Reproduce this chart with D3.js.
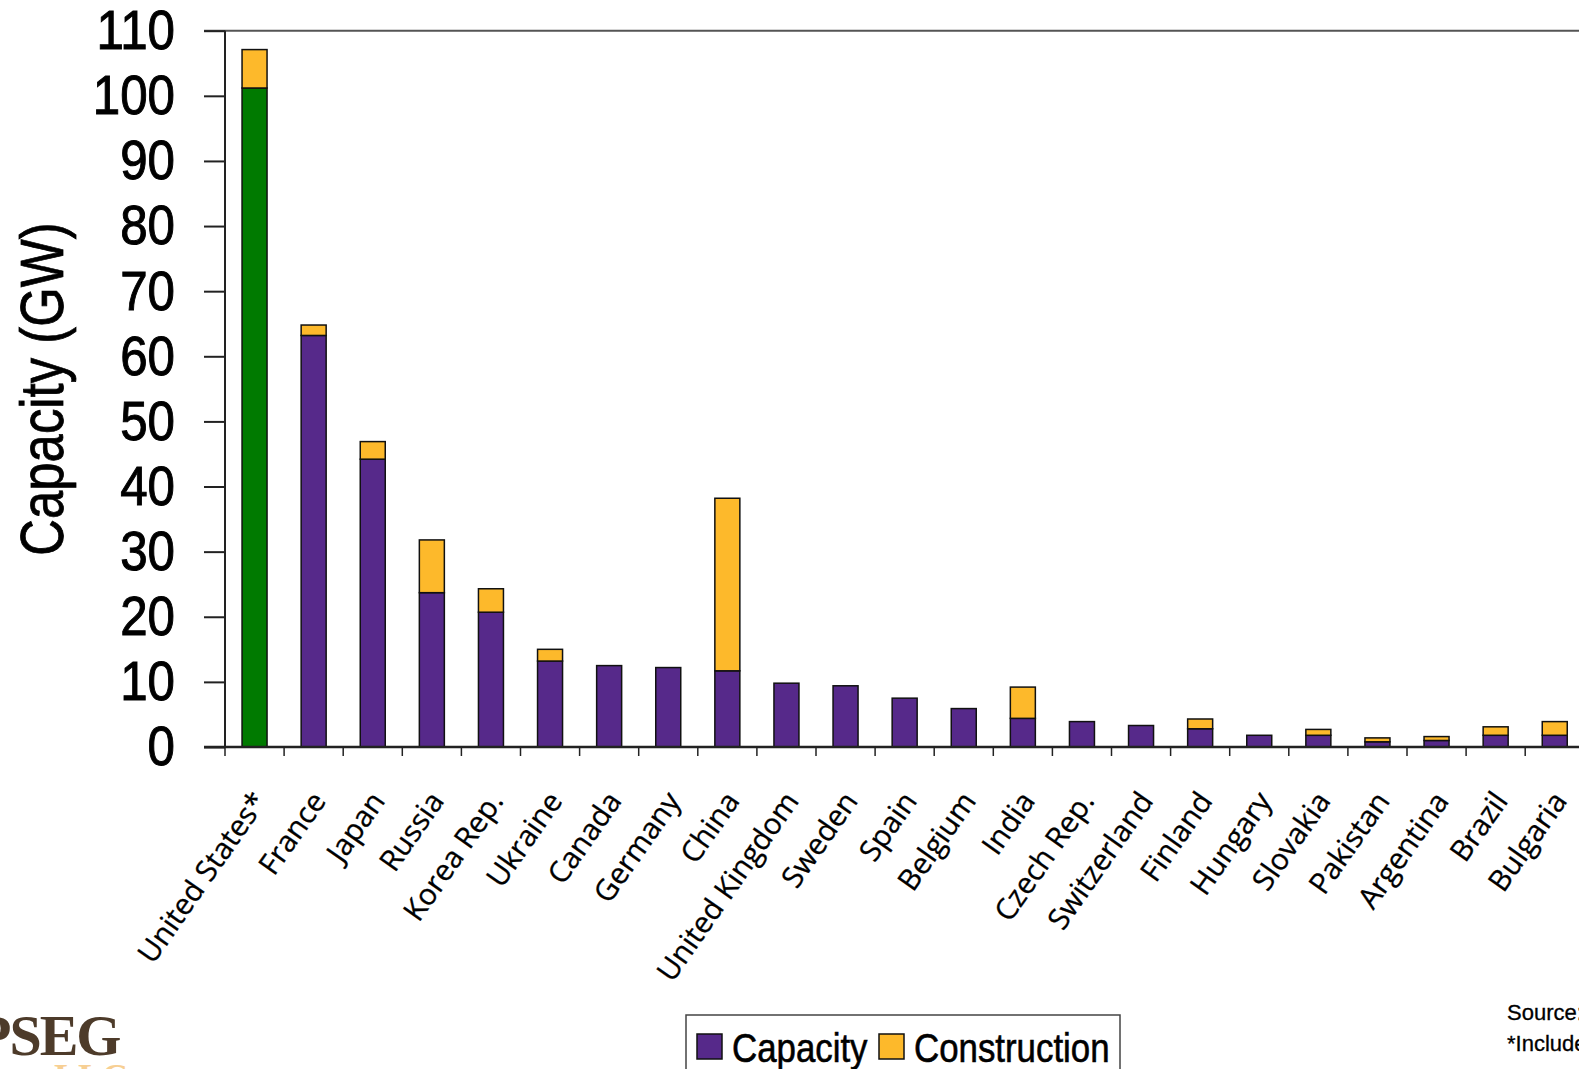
<!DOCTYPE html>
<html><head><meta charset="utf-8">
<script src="https://cdn.jsdelivr.net/npm/d3@7"></script>
<style>html,body{margin:0;padding:0;background:#fff;overflow:hidden}</style>
</head><body>
<svg id="chart" width="1579" height="1069"></svg>
<script>
const countries = ["United States*","France","Japan","Russia","Korea Rep.","Ukraine","Canada","Germany","China","United Kingdom","Sweden","Spain","Belgium","India","Czech Rep.","Switzerland","Finland","Hungary","Slovakia","Pakistan","Argentina","Brazil","Bulgaria"];
const capacity = [101.2,63.2,44.2,23.7,20.7,13.2,12.5,12.2,11.7,9.8,9.4,7.5,5.9,4.4,3.9,3.3,2.8,1.8,1.8,0.8,1.0,1.8,1.8];
const construction = [5.9,1.6,2.7,8.1,3.6,1.8,0,0,26.5,0,0,0,0,4.8,0,0,1.5,0,0.9,0.6,0.6,1.3,2.1];
const yTicks = [0,10,20,30,40,50,60,70,80,90,100,110];
const seriesNames = ["Capacity","Construction"];

const colPurple = "#56298a", colYellow = "#fdb92b", colGreen = "#007a00";
const narrowTick = 0.88, narrow = 0.82, narrowLeg = 0.85;
const sansFont = "'Liberation Sans',Arial,sans-serif";
const svg = d3.select("#chart");
const x0 = 225, y0 = 747, step = 59.1;
const x = d3.scaleBand().domain(countries).range([x0, x0 + step*countries.length]).paddingInner(0.577).paddingOuter(0.2885);
const y = d3.scaleLinear().domain([0,110]).range([y0, 30.7]);

// plot frame top line
svg.append("line").attr("x1",204).attr("x2",1600).attr("y1",y(110)).attr("y2",y(110)).attr("stroke","#555").attr("stroke-width",2);

// y axis
const ya = svg.append("g").attr("transform",`translate(${x0},0)`)
  .call(d3.axisLeft(y).tickValues(yTicks).tickSize(21).tickPadding(29).tickFormat(d3.format("d")));
ya.select(".domain").remove();
ya.selectAll(".tick line").attr("stroke","#222").attr("stroke-width",2);
ya.selectAll(".tick text").attr("font-family",sansFont).attr("font-size",56).attr("fill","#000")
  .attr("stroke","#000").attr("stroke-width",1)
  .attr("x",-50/narrowTick).attr("transform",`scale(${narrowTick},1)`);
svg.append("line").attr("x1",x0).attr("x2",x0).attr("y1",y(110)).attr("y2",y0).attr("stroke","#222").attr("stroke-width",2);

// y title
svg.append("text").attr("transform",`translate(63,${(229+549)/2}) rotate(-90) scale(${narrow},1)`).attr("text-anchor","middle")
  .attr("font-family",sansFont).attr("font-size",62).attr("stroke","#000").attr("stroke-width",0.8).text("Capacity (GW)");

// bars
const g = svg.append("g");
countries.forEach((c,i)=>{
  const bx = x(c), bw = x.bandwidth();
  g.append("rect").attr("x",bx).attr("width",bw).attr("y",y(capacity[i])).attr("height",y0 - y(capacity[i]))
    .attr("fill", i===0?colGreen:colPurple).attr("stroke","#111").attr("stroke-width",1.5);
  if (construction[i]>0) {
    const top = capacity[i]+construction[i];
    g.append("rect").attr("x",bx).attr("width",bw).attr("y",y(top)).attr("height",y(capacity[i])-y(top))
      .attr("fill",colYellow).attr("stroke","#111").attr("stroke-width",1.5);
  }
});

// x axis line and ticks
svg.append("line").attr("x1",204).attr("x2",1600).attr("y1",y0).attr("y2",y0).attr("stroke","#222").attr("stroke-width",2.5);
const bounds = countries.map(c=>x(c)+x.bandwidth()/2 - x.step()/2);
svg.selectAll(".xt").data(bounds).enter().append("line").attr("x1",d=>d).attr("x2",d=>d).attr("y1",y0).attr("y2",y0+9).attr("stroke","#222").attr("stroke-width",1.5);

// x labels
svg.selectAll(".xl").data(countries).enter().append("text")
  .attr("transform",d=>`translate(${x(d)+x.bandwidth()/2-4},789) rotate(-55)`)
  .attr("text-anchor","end").attr("dy","0.72em")
  .attr("font-family","'Open Sans',sans-serif").attr("font-size",29.5).attr("fill","#000")
  .attr("stroke","#000").attr("stroke-width",0.3).text(d=>d);

// legend
const lg = svg.append("g");
lg.append("rect").attr("x",686).attr("y",1015).attr("width",434).attr("height",90).attr("fill","#fff").attr("stroke","#444").attr("stroke-width",1.5);
const legX = [697,879];
seriesNames.forEach((n,i)=>{
  lg.append("rect").attr("x",legX[i]).attr("y",1034).attr("width",25).attr("height",25).attr("fill",i===0?colPurple:colYellow).attr("stroke","#111").attr("stroke-width",1.5);
  lg.append("text").attr("transform",`translate(${legX[i]+35},1062) scale(${narrowLeg},1)`).attr("font-family",sansFont).attr("font-size",41)
    .attr("stroke","#000").attr("stroke-width",0.6).text(n);
});

// logo
svg.append("text").attr("x",-24).attr("y",1055).attr("font-family","'Liberation Serif',serif").attr("font-weight","bold").attr("font-size",58).attr("fill","#4d3b2a").attr("letter-spacing",-2).text("PSEG");
svg.append("text").attr("x",128).attr("y",1089).attr("text-anchor","end").attr("font-family","'Liberation Serif',serif").attr("font-weight","bold").attr("font-size",36).attr("fill","#f2a93b").attr("opacity",0.55).text("Nuclear LLC");

// source notes
svg.append("text").attr("x",1507).attr("y",1020).attr("font-family",sansFont).attr("font-size",22).attr("stroke","#000").attr("stroke-width",0.3).text("Source: IAEA");
svg.append("text").attr("x",1507).attr("y",1051).attr("font-family",sansFont).attr("font-size",22).attr("stroke","#000").attr("stroke-width",0.3).text("*Includes units under construction");
</script>
</body></html>
